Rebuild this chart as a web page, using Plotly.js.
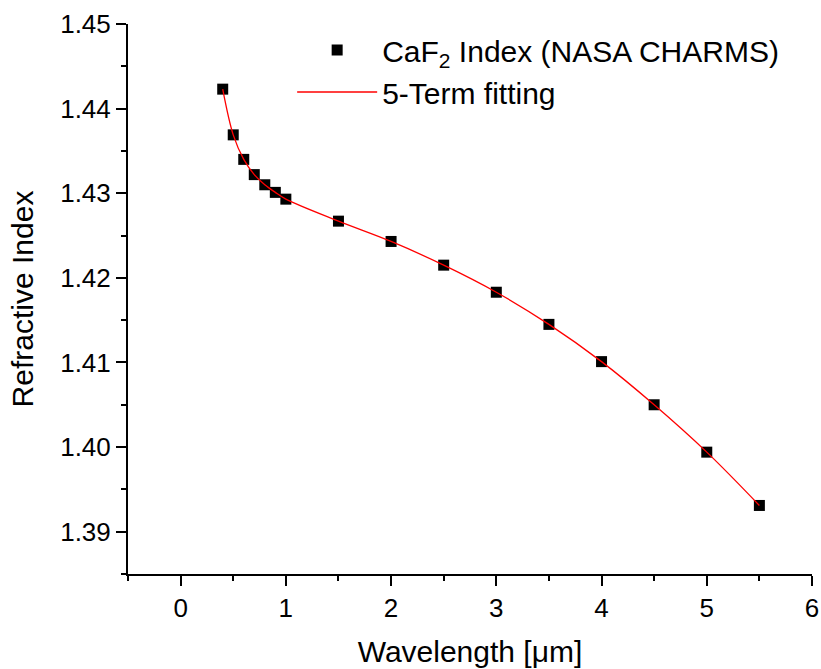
<!DOCTYPE html>
<html>
<head>
<meta charset="utf-8">
<script src="https://cdn.plot.ly/plotly-3.0.1.min.js"></script>
<style>html,body{margin:0;padding:0;background:#fff;}#chart{width:821px;height:669px;}</style>
</head>
<body>
<div id="chart"></div>
<script>
// Wavelength (µm)
const wavelength = [0.4, 0.5, 0.6, 0.7, 0.8, 0.9, 1.0, 1.5, 2.0, 2.5, 3.0, 3.5, 4.0, 4.5, 5.0, 5.5];
// CaF2 refractive index (NASA CHARMS)
const indexData = [1.4423, 1.4369, 1.4340, 1.4322, 1.4310, 1.4301, 1.4293, 1.4267, 1.4243, 1.4215, 1.4183, 1.4145, 1.4101, 1.4050, 1.3994, 1.3931];
// 5-term fit values at the same wavelengths
const fitData = [1.4423, 1.4369, 1.4340, 1.4322, 1.4310, 1.4301, 1.4293, 1.4267, 1.4243, 1.4215, 1.4183, 1.4145, 1.4101, 1.4050, 1.3994, 1.3931];
const yTicks = [1.39, 1.40, 1.41, 1.42, 1.43, 1.44, 1.45];
const xTicks = [0, 1, 2, 3, 4, 5, 6];

const font = 'Liberation Sans, Arial, sans-serif';

const traces = [
  {
    x: wavelength, y: indexData, mode: 'markers', type: 'scatter',
    name: 'CaF<sub>2</sub> Index (NASA CHARMS)',
    marker: {symbol: 'square', size: 11, color: '#000'}
  },
  {
    x: wavelength, y: fitData, mode: 'lines', type: 'scatter',
    name: '5-Term fitting',
    line: {color: '#ff0000', width: 1.3, shape: 'spline', smoothing: 1}
  }
];

const axisCommon = {
  showline: true, linecolor: '#000', linewidth: 2,
  ticks: 'outside', ticklen: 10, tickwidth: 2, tickcolor: '#000',
  showgrid: false, zeroline: false, mirror: false,
  tickfont: {family: font, size: 26, color: '#000'}
};

const layout = {
  width: 821, height: 669,
  margin: {l: 128, r: 9, t: 24, b: 95},
  paper_bgcolor: '#fff', plot_bgcolor: '#fff',
  showlegend: true,
  legend: {
    x: 0.24, y: 1.0, xanchor: 'left', yanchor: 'top',
    font: {family: font, size: 30, color: '#000'},
    bgcolor: 'rgba(0,0,0,0)', borderwidth: 0,
    itemwidth: 80, tracegroupgap: 0
  },
  xaxis: Object.assign({}, axisCommon, {
    range: [-0.5, 6], tickvals: xTicks, ticktext: xTicks.map(String),
    minor: {dtick: 0.5, ticks: 'outside', ticklen: 5, tickwidth: 2, tickcolor: '#000', showgrid: false},
    title: {text: 'Wavelength [μm]', font: {family: font, size: 30, color: '#000'}, standoff: 19}
  }),
  yaxis: Object.assign({}, axisCommon, {
    range: [1.385, 1.45], tickvals: yTicks, tickformat: '.2f',
    minor: {dtick: 0.005, ticks: 'outside', ticklen: 5, tickwidth: 2, tickcolor: '#000', showgrid: false},
    title: {text: 'Refractive Index', font: {family: font, size: 30, color: '#000'}, standoff: 18}
  })
};

Plotly.newPlot('chart', traces, layout, {displayModeBar: false, staticPlot: true});
</script>
</body>
</html>
